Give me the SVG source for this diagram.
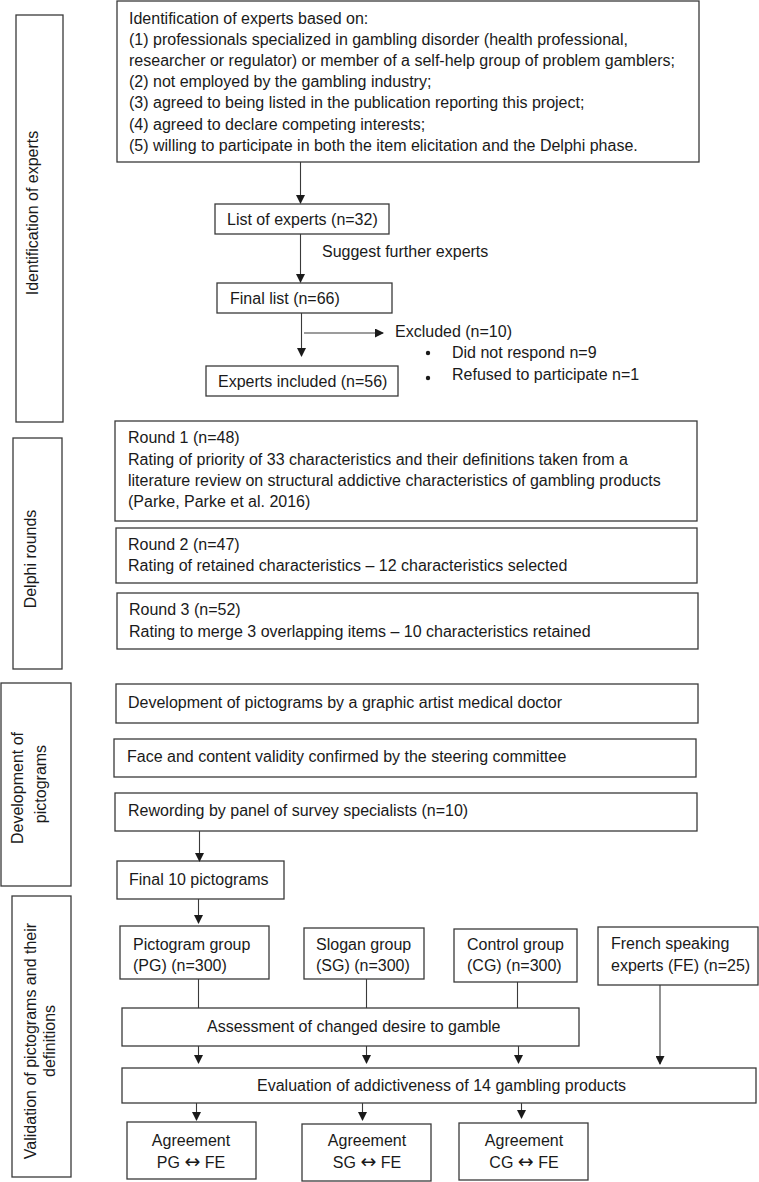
<svg xmlns="http://www.w3.org/2000/svg" width="759" height="1182" viewBox="0 0 759 1182">
<defs>
<marker id="ah" markerWidth="9" markerHeight="9" refX="8" refY="4.5" orient="auto" markerUnits="userSpaceOnUse">
<path d="M0,0 L9,4.5 L0,9 Z" fill="#1a1a1a"/>
</marker>
<style>
rect{fill:#fff;stroke:#3a3a3a;stroke-width:1.3}
text{font-family:"Liberation Sans",Arial,sans-serif;font-size:16px;fill:#1a1a1a}
.c{text-anchor:middle}
.sym{font-family:"DejaVu Sans",sans-serif;font-size:19px}
.ln{stroke:#3a3a3a;stroke-width:1.1;fill:none}
.ar{stroke:#3a3a3a;stroke-width:1.1;fill:none;marker-end:url(#ah)}
</style>
</defs>
<rect x="0" y="0" width="759" height="1182" style="fill:#fff;stroke:none"/>

<g id="phase-identification">
<rect x="16" y="15" width="47" height="407"/>
<text class="c" transform="translate(38,213) rotate(-90)">Identification of experts</text>
</g>
<g id="phase-delphi">
<rect x="13" y="438" width="49" height="231"/>
<text class="c" transform="translate(36,559) rotate(-90)">Delphi rounds</text>
</g>
<g id="phase-development">
<rect x="1" y="683" width="70" height="203"/>
<text class="c" transform="translate(23,788) rotate(-90)">Development of</text>
<text class="c" transform="translate(46,784) rotate(-90)">pictograms</text>
</g>
<g id="phase-validation">
<rect x="12" y="896" width="59" height="281"/>
<text class="c" transform="translate(36,1041) rotate(-90)">Validation of pictograms and their</text>
<text class="c" transform="translate(55,1041) rotate(-90)">definitions</text>
</g>

<g id="criteria">
<rect x="117" y="1" width="582" height="161"/>
<text x="129" y="24">Identification of experts based on:</text>
<text x="129" y="45">(1) professionals specialized in gambling disorder (health professional,</text>
<text x="129" y="66">researcher or regulator) or member of a self-help group of problem gamblers;</text>
<text x="129" y="87">(2) not employed by the gambling industry;</text>
<text x="129" y="108">(3) agreed to being listed in the publication reporting this project;</text>
<text x="129" y="130">(4) agreed to declare competing interests;</text>
<text x="129" y="151">(5) willing to participate in both the item elicitation and the Delphi phase.</text>
</g>
<g id="list32">
<rect x="215" y="204" width="174" height="30"/>
<text x="227" y="225">List of experts (n=32)</text>
</g>
<text id="suggest" x="322" y="257">Suggest further experts</text>
<g id="final66">
<rect x="217" y="283" width="175" height="30"/>
<text x="230" y="304">Final list (n=66)</text>
</g>
<g id="excluded">
<text x="395" y="337">Excluded (n=10)</text>
<circle cx="428" cy="353" r="2.2" fill="#1a1a1a"/>
<text x="452" y="358">Did not respond n=9</text>
<circle cx="428" cy="378" r="2.2" fill="#1a1a1a"/>
<text x="452" y="380">Refused to participate n=1</text>
</g>
<g id="included56">
<rect x="206" y="366" width="192" height="30"/>
<text x="218" y="387">Experts included (n=56)</text>
</g>

<g id="round1">
<rect x="115" y="421" width="582" height="100"/>
<text x="128" y="443">Round 1 (n=48)</text>
<text x="128" y="465">Rating of priority of 33 characteristics and their definitions taken from a</text>
<text x="128" y="486">literature review on structural addictive characteristics of gambling products</text>
<text x="128" y="507">(Parke, Parke et al. 2016)</text>
</g>
<g id="round2">
<rect x="116" y="528" width="581" height="55"/>
<text x="128" y="550">Round 2 (n=47)</text>
<text x="128" y="571">Rating of retained characteristics – 12 characteristics selected</text>
</g>
<g id="round3">
<rect x="117" y="593" width="581" height="56"/>
<text x="129" y="615">Round 3 (n=52)</text>
<text x="129" y="637">Rating to merge 3 overlapping items – 10 characteristics retained</text>
</g>

<g id="dev1">
<rect x="116" y="684" width="582" height="39"/>
<text x="128" y="708">Development of pictograms by a graphic artist medical doctor</text>
</g>
<g id="dev2">
<rect x="114" y="739" width="582" height="38"/>
<text x="127" y="762">Face and content validity confirmed by the steering committee</text>
</g>
<g id="dev3">
<rect x="115" y="793" width="582" height="38"/>
<text x="128" y="816">Rewording by panel of survey specialists (n=10)</text>
</g>
<g id="final10">
<rect x="117" y="861" width="167" height="38"/>
<text x="129" y="885">Final 10 pictograms</text>
</g>

<g id="pg">
<rect x="120" y="926" width="149" height="53"/>
<text x="133" y="950">Pictogram group</text>
<text x="133" y="971">(PG) (n=300)</text>
</g>
<g id="sg">
<rect x="304" y="928" width="120" height="51"/>
<text x="316" y="950">Slogan group</text>
<text x="316" y="971">(SG) (n=300)</text>
</g>
<g id="cg">
<rect x="454" y="929" width="123" height="53"/>
<text x="467" y="950">Control group</text>
<text x="467" y="971">(CG) (n=300)</text>
</g>
<g id="fe">
<rect x="598" y="927" width="160" height="58"/>
<text x="611" y="949">French speaking</text>
<text x="611" y="971">experts (FE) (n=25)</text>
</g>
<g id="assessment">
<rect x="122" y="1008" width="457" height="38"/>
<text x="207" y="1032">Assessment of changed desire to gamble</text>
</g>
<g id="evaluation">
<rect x="122" y="1068" width="634" height="35"/>
<text x="257" y="1091">Evaluation of addictiveness of 14 gambling products</text>
</g>
<g id="agree-pg">
<rect x="127" y="1122" width="129" height="57"/>
<text class="c" x="191" y="1146">Agreement</text>
<text class="c" x="191" y="1168">PG <tspan class="sym">↔</tspan> FE</text>
</g>
<g id="agree-sg">
<rect x="302" y="1124" width="129" height="57"/>
<text class="c" x="367" y="1146">Agreement</text>
<text class="c" x="367" y="1168">SG <tspan class="sym">↔</tspan> FE</text>
</g>
<g id="agree-cg">
<rect x="459" y="1123" width="129" height="57"/>
<text class="c" x="524" y="1146">Agreement</text>
<text class="c" x="524" y="1168">CG <tspan class="sym">↔</tspan> FE</text>
</g>

<g id="connectors">
<line class="ar" x1="300.5" y1="162" x2="300.5" y2="203"/>
<line class="ar" x1="300.5" y1="234" x2="300.5" y2="282"/>
<line class="ar" x1="301.5" y1="313" x2="301.5" y2="356"/>
<line class="ar" x1="304" y1="333" x2="383" y2="333"/>
<line class="ar" x1="199.5" y1="831" x2="199.5" y2="861"/>
<line class="ar" x1="198.5" y1="899" x2="198.5" y2="923"/>
<line class="ln" x1="198.5" y1="979" x2="198.5" y2="1008"/>
<line class="ln" x1="366.5" y1="979" x2="366.5" y2="1008"/>
<line class="ln" x1="517.5" y1="982" x2="517.5" y2="1008"/>
<line class="ar" x1="660" y1="985" x2="660" y2="1064"/>
<line class="ar" x1="198.5" y1="1046" x2="198.5" y2="1063"/>
<line class="ar" x1="366.5" y1="1046" x2="366.5" y2="1063"/>
<line class="ar" x1="518.5" y1="1046" x2="518.5" y2="1063"/>
<line class="ar" x1="196.5" y1="1103" x2="196.5" y2="1120"/>
<line class="ar" x1="362.5" y1="1103" x2="362.5" y2="1120"/>
<line class="ar" x1="521.5" y1="1103" x2="521.5" y2="1118"/>
</g>
</svg>
